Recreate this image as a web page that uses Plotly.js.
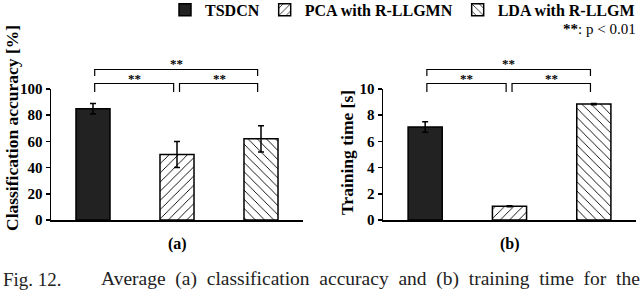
<!DOCTYPE html>
<html><head><meta charset="utf-8">
<script src="https://cdn.plot.ly/plotly-3.0.1.min.js"></script>
<style>html,body{margin:0;padding:0;background:#fff}#c{width:640px;height:290px}</style>
</head><body><div id="c"></div>
<script>
var categories = ['TSDCN', 'PCA with R-LLGMN', 'LDA with R-LLGM'];
var accuracy = [85, 50, 62];
var accuracyErr = [4, 10, 10];
var trainTime = [7.1, 1.05, 8.85];
var trainTimeErr = [0.4, 0.03, 0.05];
var yTicksA = [0, 20, 40, 60, 80, 100];
var yTicksB = [0, 2, 4, 6, 8, 10];

var serif = '"Liberation Serif", "Times New Roman", serif';
var fills = [
  {color: '#222222', line: {color: '#000', width: 1.5}},
  {color: 'white', line: {color: '#000', width: 1.5}, pattern: {shape: '/', size: 6.5, solidity: 0.14, fgcolor: '#000', bgcolor: 'white', fillmode: 'replace'}},
  {color: 'white', line: {color: '#000', width: 1.5}, pattern: {shape: '\\', size: 6.5, solidity: 0.14, fgcolor: '#000', bgcolor: 'white', fillmode: 'replace'}}
];

var traces = [];
categories.forEach(function (cat, i) {
  traces.push({
    type: 'bar', x: [cat], y: [accuracy[i]], name: cat, legendgroup: cat,
    marker: fills[i], width: 0.405, xaxis: 'x', yaxis: 'y',
    error_y: {type: 'data', array: [accuracyErr[i]], visible: true, color: '#000', thickness: 1.5, width: 3}
  });
  traces.push({
    type: 'bar', x: [cat], y: [trainTime[i]], name: cat, legendgroup: cat, showlegend: false,
    marker: fills[i], width: 0.405, xaxis: 'x2', yaxis: 'y2',
    error_y: {type: 'data', array: [trainTimeErr[i]], visible: true, color: '#000', thickness: 1.5, width: 3}
  });
});

function yPix(p) { return (290 - p) / 290; }

var shapes = [];
var annotations = [];
['x', 'x2'].forEach(function (xr) {
  var ln = {color: '#000', width: 1.2};
  shapes.push({type: 'path', xref: xr, yref: 'paper', line: ln,
    path: 'M 0.02,' + yPix(76) + ' L 0.02,' + yPix(69.5) + ' L 1.96,' + yPix(69.5) + ' L 1.96,' + yPix(76)});
  shapes.push({type: 'path', xref: xr, yref: 'paper', line: ln,
    path: 'M 0.02,' + yPix(92) + ' L 0.02,' + yPix(83.5) + ' L 0.96,' + yPix(83.5) + ' L 0.96,' + yPix(92)});
  shapes.push({type: 'path', xref: xr, yref: 'paper', line: ln,
    path: 'M 1.03,' + yPix(92) + ' L 1.03,' + yPix(83.5) + ' L 1.96,' + yPix(83.5) + ' L 1.96,' + yPix(92)});
  [[0.99, 63], [0.49, 78], [1.5, 78]].forEach(function (s) {
    annotations.push({xref: xr, yref: 'paper', x: s[0], y: yPix(s[1]), text: '**', showarrow: false,
      font: {family: serif, size: 13, color: '#000', weight: 'bold'}, xanchor: 'center', yanchor: 'middle'});
  });
});

var titleFont = {family: serif, size: 17.5, color: '#000', weight: 'bold'};
annotations.push({xref: 'paper', yref: 'paper', x: 12 / 640, y: yPix(128), textangle: -90, text: 'Classification accuracy [%]',
  showarrow: false, xanchor: 'center', yanchor: 'middle', font: titleFont});
annotations.push({xref: 'paper', yref: 'paper', x: 347 / 640, y: yPix(153), textangle: -90, text: 'Training time [s]',
  showarrow: false, xanchor: 'center', yanchor: 'middle', font: titleFont});
annotations.push({xref: 'x domain', yref: 'paper', x: 0.5, y: yPix(244), text: '(a)', showarrow: false,
  yanchor: 'middle', font: {family: serif, size: 16, color: '#000', weight: 'bold'}});
annotations.push({xref: 'x2 domain', yref: 'paper', x: 0.5, y: yPix(244), text: '(b)', showarrow: false,
  yanchor: 'middle', font: {family: serif, size: 16, color: '#000', weight: 'bold'}});
annotations.push({xref: 'paper', yref: 'paper', x: 0.997, xanchor: 'right', y: yPix(29), yanchor: 'middle', text: '<b>**</b>: p < 0.01', showarrow: false,
  font: {family: serif, size: 15, color: '#000'}});
annotations.push({xref: 'paper', yref: 'paper', x: 0.002, xanchor: 'left', y: yPix(279), yanchor: 'middle', text: 'Fig. 12.', showarrow: false,
  font: {family: serif, size: 19, color: '#222'}});
annotations.push({xref: 'paper', yref: 'paper', x: 1.003, xanchor: 'right', y: yPix(279), yanchor: 'middle',
  text: 'Average  (a)  classification  accuracy  and  (b)  training  time  for  the', showarrow: false,
  font: {family: serif, size: 19.5, color: '#222'}});

var axY = {
  showline: true, linecolor: '#000', linewidth: 1.5, ticks: 'outside', ticklen: 4, tickwidth: 1.5, tickcolor: '#000',
  showgrid: false, zeroline: false, tickfont: {family: serif, size: 15, color: '#000', weight: 'bold'},
  domain: [yPix(220), yPix(89)]
};
var axX = {
  showline: true, linecolor: '#000', linewidth: 1.5, ticks: '', showticklabels: false, showgrid: false,
  zeroline: false, range: [-0.5, 2.5], type: 'category'
};

var layout = {
  width: 640, height: 290, margin: {l: 0, r: 0, t: 0, b: 0, autoexpand: false},
  paper_bgcolor: 'white', plot_bgcolor: 'white',
  barmode: 'overlay', showlegend: true,
  legend: {orientation: 'h', x: 1, xanchor: 'right', y: 1.025, yanchor: 'top',
    font: {family: serif, size: 16, color: '#000', weight: 'bold'}, itemwidth: 30, tracegroupgap: 0,
    bgcolor: 'rgba(0,0,0,0)'},
  xaxis: Object.assign({}, axX, {domain: [51 / 640, 303 / 640], anchor: 'y'}),
  xaxis2: Object.assign({}, axX, {domain: [383 / 640, 636 / 640], anchor: 'y2'}),
  yaxis: Object.assign({}, axY, {range: [0, 100], tickvals: yTicksA, anchor: 'x'}),
  yaxis2: Object.assign({}, axY, {range: [0, 10], tickvals: yTicksB, anchor: 'x2'}),
  shapes: shapes, annotations: annotations
};

Plotly.newPlot('c', traces, layout, {displayModeBar: false, staticPlot: true});
</script></body></html>
